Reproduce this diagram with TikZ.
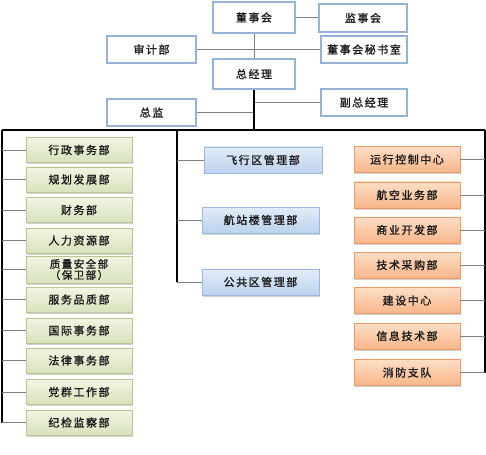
\documentclass[tikz,border=0pt]{standalone}
\usepackage{fontspec}
\newfontfamily\cjk[LetterSpace=14, FakeBold=1.2]{Noto Sans CJK SC}
\usetikzlibrary{shadows}
\definecolor{topborder}{HTML}{95B3D7}
\definecolor{greentop}{HTML}{F1F5E2}
\definecolor{greenbot}{HTML}{D8E2BC}
\definecolor{greenborder}{HTML}{B9C597}
\definecolor{bluetop}{HTML}{E2ECF8}
\definecolor{bluebot}{HTML}{BCD2EE}
\definecolor{blueborder}{HTML}{9CB8DC}
\definecolor{orangetop}{HTML}{FDDEC6}
\definecolor{orangebot}{HTML}{F8B689}
\definecolor{orangeborder}{HTML}{EE9A66}
\definecolor{conncol}{HTML}{7F7F7F}
\definecolor{txt}{HTML}{1A1A1A}
\tikzset{
  base/.style={rectangle, inner sep=0pt, font=\cjk\fontsize{11}{12}\selectfont, text=txt, align=center},
  topbox/.style={base, draw=topborder, line width=1.1pt, fill=white},
  greenbox/.style={base, draw=greenborder, line width=0.8pt, top color=greentop, bottom color=greenbot,
     minimum width=106pt, minimum height=25pt,
     drop shadow={opacity=0.35, shadow xshift=1pt, shadow yshift=-1.5pt}},
  bluebox/.style={base, draw=blueborder, line width=0.8pt, top color=bluetop, bottom color=bluebot,
     minimum height=26pt,
     drop shadow={opacity=0.35, shadow xshift=1pt, shadow yshift=-1.5pt}},
  orangebox/.style={base, draw=orangeborder, line width=0.8pt, top color=orangetop, bottom color=orangebot,
     minimum width=106pt, minimum height=26pt,
     drop shadow={opacity=0.35, shadow xshift=1pt, shadow yshift=-1.5pt}},
  conn/.style={draw=conncol, line width=0.7pt},
  frame/.style={draw=black, line width=1.1pt},
  trunk/.style={draw=black, line width=2pt}
}
\begin{document}
\begin{tikzpicture}[x=1pt, y=-1pt]
\useasboundingbox (0,0) rectangle (486,454);

% top level
\node[topbox, minimum width=82pt, minimum height=31pt] (dsh) at (254,17.5) {董事会};
\node[topbox, minimum width=88pt, minimum height=28pt] (jsh) at (363,18) {监事会};
\node[topbox, minimum width=89pt, minimum height=27pt] (sjb) at (151.5,49.5) {审计部};
\node[topbox, minimum width=86pt, minimum height=27pt] (msh) at (364,49.5) {董事会秘书室};
\node[topbox, minimum width=82pt, minimum height=30pt] (zjl) at (254,74) {总经理};
\node[topbox, minimum width=89pt, minimum height=27pt] (zj) at (151.5,112.5) {总监};
\node[topbox, minimum width=86pt, minimum height=27pt] (fzjl) at (364,102.5) {副总经理};

\draw[conn] (dsh.east) -- (dsh.east -| jsh.west);
\draw[conn] (dsh.south) -- (zjl.north);
\draw[conn] (sjb.east) -- (sjb.east -| msh.west);

\coordinate (L) at (2,130);
\coordinate (M) at (177,130);
\coordinate (R) at (485,130);

\draw[conn] (zj.east) -- (zj.east -| zjl.south);
\draw[conn] (fzjl.west) -- (fzjl.west -| zjl.south);
\draw[trunk] (zjl.south) -- (zjl.south |- L);

% left column
\node[greenbox] (g1) at (79,150) {行政事务部};
\node[greenbox] (g2) at (79,179.5) {规划发展部};
\node[greenbox] (g3) at (79,210) {财务部};
\node[greenbox] (g4) at (79,240.5) {人力资源部};
\node[greenbox, minimum height=27pt, font=\cjk\fontsize{10.5}{11}\selectfont] (g5) at (79,269.5) {质量安全部\\（保卫部）};
\node[greenbox] (g6) at (79,299.5) {服务品质部};
\node[greenbox] (g7) at (79,330.5) {国际事务部};
\node[greenbox] (g8) at (79,360.5) {法律事务部};
\node[greenbox] (g9) at (79,392) {党群工作部};
\node[greenbox] (g10) at (79,422.5) {纪检监察部};

% middle column
\node[bluebox, minimum width=118pt] (b1) at (263,160) {飞行区管理部};
\node[bluebox, minimum width=117pt] (b2) at (260.5,220) {航站楼管理部};
\node[bluebox, minimum width=117pt] (b3) at (260.5,282) {公共区管理部};

% right column
\node[orangebox] (o1) at (407,159.5) {运行控制中心};
\node[orangebox] (o2) at (407,195) {航空业务部};
\node[orangebox] (o3) at (407,230) {商业开发部};
\node[orangebox] (o4) at (407,265) {技术采购部};
\node[orangebox] (o5) at (407,300.5) {建设中心};
\node[orangebox] (o6) at (407,336) {信息技术部};
\node[orangebox] (o7) at (407,372.5) {消防支队};

% frame
\draw[frame] (L) -- (R);
\draw[frame] (L) -- (L |- g10.west);
\draw[frame] (M) -- (M |- b3.west);
\draw[frame] (R) -- (R |- o7.east);

\foreach \n in {g1,g2,g3,g4,g5,g6,g7,g8,g9,g10}
  \draw[conn] (\n.west -| L) -- (\n.west);
\foreach \n in {b1,b2,b3}
  \draw[conn] (\n.west -| M) -- (\n.west);
\foreach \n in {o1,o2,o3,o4,o5,o6,o7}
  \draw[conn] (\n.east) -- (\n.east -| R);
\end{tikzpicture}
\end{document}
